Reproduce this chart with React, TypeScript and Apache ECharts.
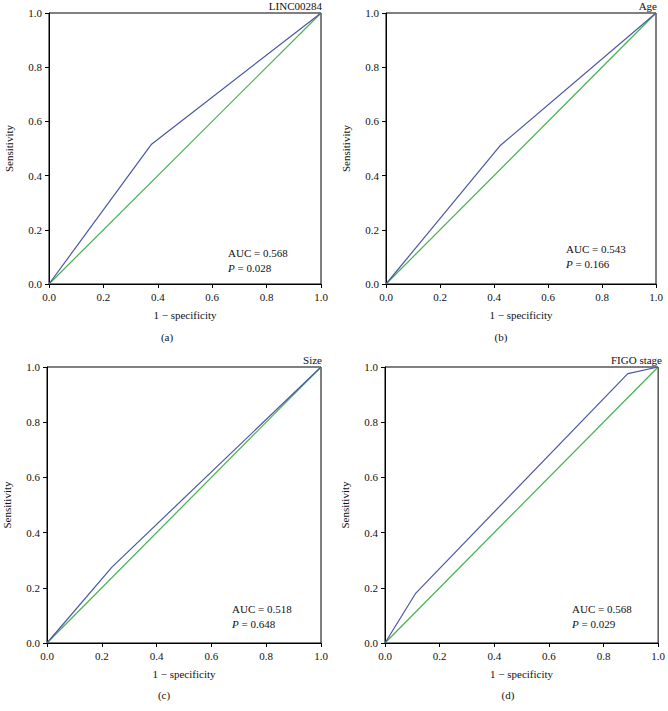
import React, { useEffect, useRef } from "react";
import * as echarts from "echarts";

const panelTitles = ["LINC00284", "Age", "Size", "FIGO stage"];
const panelLetters = ["(a)", "(b)", "(c)", "(d)"];
const aucValues = ["0.568", "0.543", "0.518", "0.568"];
const pValues = ["0.028", "0.166", "0.648", "0.029"];

const fprA = [0, 0.377, 1];
const tprA = [0, 0.516, 1];
const fprB = [0, 0.422, 1];
const tprB = [0, 0.51, 1];
const fprC = [0, 0.237, 1];
const tprC = [0, 0.275, 1];
const fprD = [0, 0.113, 0.889, 1];
const tprD = [0, 0.181, 0.976, 1];
const diagX = [0, 1];
const diagY = [0, 1];

const fprs = [fprA, fprB, fprC, fprD];
const tprs = [tprA, tprB, tprC, tprD];

const FONT = "'Liberation Serif', 'Times New Roman', serif";
const BLUE = "#4a58a2";
const GREEN = "#46b04e";
const FS = 11;

const grids = [
  { left: 49, top: 13, width: 272, height: 271 },
  { left: 386, top: 13, width: 270, height: 271 },
  { left: 46, top: 367, width: 275, height: 276 },
  { left: 385, top: 367, width: 276, height: 276 },
];

const annot = [
  { x: 228, y: 247 },
  { x: 566, y: 243 },
  { x: 232, y: 603 },
  { x: 572, y: 603 },
];

const letterPos = [
  { x: 167, y: 337 },
  { x: 501, y: 337 },
  { x: 164, y: 695 },
  { x: 508, y: 695 },
];

export default function App() {
  const ref = useRef<HTMLDivElement>(null);
  useEffect(() => {
    if (!ref.current) return;
    const chart = echarts.init(ref.current, undefined, { renderer: "svg" });
    const fmt = (v: number) => v.toFixed(1);
    const xAxes = grids.map((_, i) => ({
      type: "value",
      gridIndex: i,
      min: 0,
      max: 1,
      interval: 0.2,
      name: "1 \u2212 specificity",
      nameLocation: "middle",
      nameGap: 25,
      nameTextStyle: { fontFamily: FONT, fontSize: FS, color: "#111" },
      axisLine: { show: true, lineStyle: { color: "#000", width: 1 } },
      axisTick: { show: true, length: 4, lineStyle: { color: "#000" } },
      axisLabel: { formatter: fmt, fontFamily: FONT, fontSize: FS, color: "#111", margin: 7 },
      splitLine: { show: false },
    }));
    const yAxes = grids.map((_, i) => ({
      type: "value",
      gridIndex: i,
      min: 0,
      max: 1,
      interval: 0.2,
      name: "Sensitivity",
      nameLocation: "middle",
      nameGap: 35,
      nameTextStyle: { fontFamily: FONT, fontSize: FS, color: "#111" },
      axisLine: { show: true, lineStyle: { color: "#000", width: 1 } },
      axisTick: { show: true, length: 4, lineStyle: { color: "#000" } },
      axisLabel: { formatter: fmt, fontFamily: FONT, fontSize: FS, color: "#111", margin: 7 },
      splitLine: { show: false },
    }));
    const series: any[] = [];
    grids.forEach((_, i) => {
      series.push({
        type: "line",
        xAxisIndex: i,
        yAxisIndex: i,
        data: diagX.map((x, k) => [x, diagY[k]]),
        showSymbol: false,
        lineStyle: { color: GREEN, width: 1.2 },
        itemStyle: { color: GREEN },
      });
      series.push({
        type: "line",
        xAxisIndex: i,
        yAxisIndex: i,
        data: fprs[i].map((x, k) => [x, tprs[i][k]]),
        showSymbol: false,
        lineStyle: { color: BLUE, width: 1.2 },
        itemStyle: { color: BLUE },
      });
    });
    const titles = grids.map((g, i) => ({
      text: panelTitles[i],
      right: 668 - (g.left + g.width) - 1,
      top: g.top - 13,
      padding: 0,
      textStyle: { fontFamily: FONT, fontSize: FS, fontWeight: "normal", color: "#111" },
    }));
    const graphics: any[] = [];
    annot.forEach((a, i) => {
      graphics.push({
        type: "text",
        x: a.x,
        y: a.y,
        style: {
          text: "AUC = " + aucValues[i],
          fontFamily: FONT,
          fontSize: FS,
          fill: "#111",
        },
      });
      graphics.push({
        type: "text",
        x: a.x,
        y: a.y + 15,
        style: {
          text: "{i|P} = " + pValues[i],
          fontFamily: FONT,
          fontSize: FS,
          fill: "#111",
          rich: { i: { fontStyle: "italic", fontFamily: FONT, fontSize: FS, fill: "#111" } },
        },
      });
    });
    letterPos.forEach((p, i) => {
      graphics.push({
        type: "text",
        x: p.x,
        y: p.y,
        style: {
          text: panelLetters[i],
          fontFamily: FONT,
          fontSize: 11,
          fill: "#111",
          align: "center",
          verticalAlign: "middle",
        },
      });
    });
    chart.setOption({
      animation: false,
      backgroundColor: "#fff",
      title: titles,
      grid: grids.map((g) => ({
        ...g,
        show: true,
        borderColor: "#000",
        borderWidth: 1,
        backgroundColor: "transparent",
      })),
      xAxis: xAxes,
      yAxis: yAxes,
      series,
      graphic: graphics,
    });
    return () => chart.dispose();
  }, []);
  return (
    <div
      ref={ref}
      style={{ position: "absolute", left: 0, top: 0, width: 668, height: 711 }}
    />
  );
}
